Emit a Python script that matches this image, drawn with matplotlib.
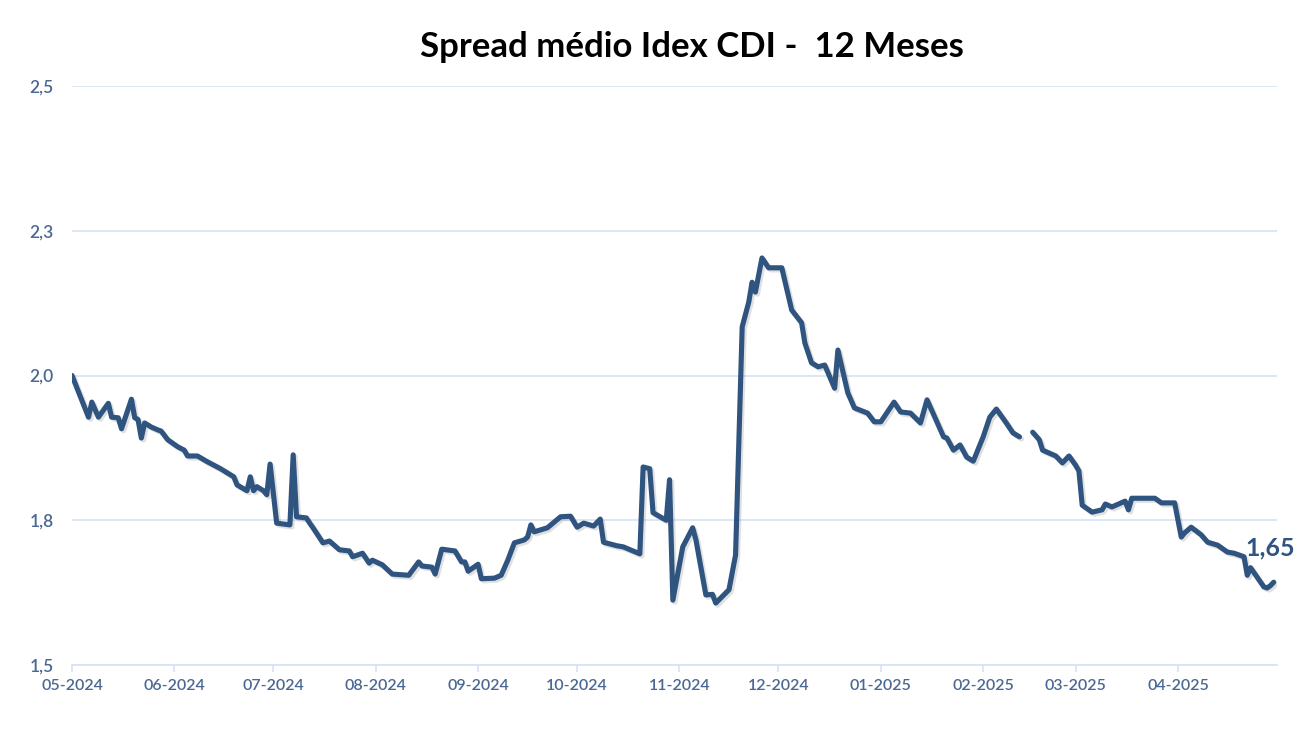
import numpy as np
import pandas as pd
import matplotlib
matplotlib.use('Agg')
import matplotlib.pyplot as plt
import matplotlib.dates as mdates
import matplotlib.patheffects as pe

# spread médio (daily readings), NaN = gap in the series
dates = [
    '2024-05-01', '2024-05-06', '2024-05-07', '2024-05-09', '2024-05-12', '2024-05-13',
    '2024-05-15', '2024-05-16', '2024-05-19', '2024-05-20', '2024-05-21', '2024-05-22',
    '2024-05-23', '2024-05-25', '2024-05-27', '2024-05-28', '2024-05-30', '2024-06-02',
    '2024-06-04', '2024-06-05', '2024-06-08', '2024-06-11', '2024-06-15', '2024-06-19',
    '2024-06-20', '2024-06-23', '2024-06-24', '2024-06-25', '2024-06-26', '2024-06-28',
    '2024-06-29', '2024-06-30', '2024-07-02', '2024-07-06', '2024-07-07', '2024-07-08',
    '2024-07-11', '2024-07-12', '2024-07-13', '2024-07-16', '2024-07-18', '2024-07-21',
    '2024-07-24', '2024-07-25', '2024-07-28', '2024-07-30', '2024-07-31', '2024-08-03',
    '2024-08-06', '2024-08-11', '2024-08-14', '2024-08-15', '2024-08-18', '2024-08-19',
    '2024-08-21', '2024-08-25', '2024-08-27', '2024-08-28', '2024-08-29', '2024-09-01',
    '2024-09-02', '2024-09-06', '2024-09-08', '2024-09-10', '2024-09-12', '2024-09-15',
    '2024-09-16', '2024-09-17', '2024-09-18', '2024-09-22', '2024-09-26', '2024-09-29',
    '2024-10-01', '2024-10-03', '2024-10-06', '2024-10-08', '2024-10-09', '2024-10-13',
    '2024-10-15', '2024-10-20', '2024-10-21', '2024-10-23', '2024-10-24', '2024-10-28',
    '2024-10-29', '2024-10-30', '2024-11-02', '2024-11-05', '2024-11-06', '2024-11-09',
    '2024-11-11', '2024-11-12', '2024-11-16', '2024-11-18', '2024-11-20', '2024-11-22',
    '2024-11-23', '2024-11-24', '2024-11-26', '2024-11-28', '2024-12-02', '2024-12-05',
    '2024-12-08', '2024-12-09', '2024-12-11', '2024-12-13', '2024-12-15', '2024-12-18',
    '2024-12-19', '2024-12-22', '2024-12-24', '2024-12-28', '2024-12-30', '2025-01-01',
    '2025-01-05', '2025-01-07', '2025-01-10', '2025-01-13', '2025-01-15', '2025-01-20',
    '2025-01-21', '2025-01-23', '2025-01-25', '2025-01-27', '2025-01-29', '2025-02-01',
    '2025-02-03', '2025-02-05', '2025-02-08', '2025-02-10', '2025-02-12', '2025-02-14',
    '2025-02-16', '2025-02-18', '2025-02-19', '2025-02-23', '2025-02-25', '2025-02-27',
    '2025-03-01', '2025-03-02', '2025-03-03', '2025-03-06', '2025-03-09', '2025-03-10',
    '2025-03-12', '2025-03-16', '2025-03-17', '2025-03-18', '2025-03-25', '2025-03-27',
    '2025-03-31', '2025-04-02', '2025-04-03', '2025-04-05', '2025-04-08', '2025-04-10',
    '2025-04-13', '2025-04-16', '2025-04-18', '2025-04-21', '2025-04-22', '2025-04-23',
    '2025-04-27', '2025-04-28', '2025-04-29', '2025-04-30',
]
spread = [
    2.000, 1.928, 1.954, 1.928, 1.952, 1.928,
    1.927, 1.908, 1.959, 1.927, 1.924, 1.892,
    1.918, 1.911, 1.906, 1.904, 1.889, 1.877,
    1.871, 1.861, 1.861, 1.851, 1.839, 1.825,
    1.811, 1.801, 1.825, 1.801, 1.808, 1.801,
    1.794, 1.847, 1.745, 1.742, 1.863, 1.756,
    1.754, 1.745, 1.737, 1.711, 1.714, 1.699,
    1.697, 1.687, 1.693, 1.676, 1.681, 1.673,
    1.657, 1.655, 1.678, 1.671, 1.669, 1.657,
    1.700, 1.697, 1.678, 1.678, 1.662, 1.674,
    1.649, 1.650, 1.655, 1.681, 1.711, 1.716,
    1.721, 1.742, 1.730, 1.737, 1.756, 1.757,
    1.738, 1.745, 1.740, 1.752, 1.712, 1.706,
    1.704, 1.692, 1.842, 1.839, 1.763, 1.750,
    1.820, 1.612, 1.704, 1.737, 1.716, 1.621,
    1.622, 1.607, 1.630, 1.690, 2.084, 2.127,
    2.161, 2.144, 2.203, 2.186, 2.186, 2.113,
    2.091, 2.056, 2.022, 2.015, 2.018, 1.978,
    2.044, 1.970, 1.944, 1.935, 1.920, 1.920,
    1.954, 1.937, 1.935, 1.918, 1.958, 1.894,
    1.892, 1.871, 1.880, 1.859, 1.852, 1.894,
    1.928, 1.942, 1.918, 1.901, 1.894, np.nan,
    1.902, 1.889, 1.871, 1.861, 1.849, 1.861,
    1.845, 1.835, 1.776, 1.764, 1.768, 1.778,
    1.773, 1.783, 1.768, 1.788, 1.788, 1.780,
    1.780, 1.721, 1.728, 1.738, 1.725, 1.712,
    1.707, 1.695, 1.693, 1.687, 1.655, 1.668,
    1.635, 1.633, 1.637, 1.643,
]
y_ticks = [1.5, 1.75, 2.0, 2.25, 2.5]
y_labels = ['1,5', '1,8', '2,0', '2,3', '2,5']
last_label = '1,65'

x = pd.to_datetime(dates)

line_color = '#2f5480'
text_color = '#4a6893'
grid_color = '#d5e3f5'

plt.rcParams['font.family'] = ['Lato', 'DejaVu Sans']

fig = plt.figure(figsize=(13.12, 7.4), dpi=100)
ax = fig.add_axes([72 / 1312, 1 - 665 / 740, (1277 - 72) / 1312, (665 - 86) / 740])

ax.plot(x, spread, color=line_color, lw=3.7, solid_joinstyle='round', solid_capstyle='round',
        path_effects=[pe.SimpleLineShadow(offset=(1.5, -1.5), alpha=0.18, shadow_color='#555555'),
                      pe.Normal()], zorder=3)

ax.set_ylim(1.5, 2.5)
ax.set_yticks(y_ticks)
ax.set_yticklabels(y_labels)
ax.set_xlim(pd.Timestamp('2024-05-01'), pd.Timestamp('2025-05-01'))
ax.xaxis.set_major_locator(mdates.MonthLocator())
ax.xaxis.set_major_formatter(mdates.DateFormatter('%m-%Y'))

# last tick (05-2025) is not labelled in the reference
ticks = ax.get_xticks()
ax.set_xticks(ticks[:-1])

ax.grid(axis='y', color=grid_color, lw=1.2)
ax.set_axisbelow(True)
for s in ['top', 'right', 'left']:
    ax.spines[s].set_visible(False)
ax.spines['bottom'].set_color(grid_color)
ax.spines['bottom'].set_linewidth(1.2)
ax.tick_params(axis='x', colors=grid_color, length=5, width=1.2, labelcolor=text_color,
               labelsize=11.5, pad=5)
ax.tick_params(axis='y', length=0, labelcolor=text_color, labelsize=12.5, pad=13)
for lbl in ax.get_xticklabels() + ax.get_yticklabels():
    lbl.set_fontweight('semibold')

ax.annotate(last_label, (x[-1], spread[-1]), xytext=(-20, 25), textcoords='offset points',
            ha='left', va='center', fontsize=18, fontweight='bold', color=line_color,
            annotation_clip=False)

fig.text(692 / 1312, 1 - 47 / 740, 'Spread médio Idex CDI -  12 Meses', ha='center', va='center',
         fontsize=25, fontweight='bold', color='black')

fig.savefig('out.png', dpi=100)
